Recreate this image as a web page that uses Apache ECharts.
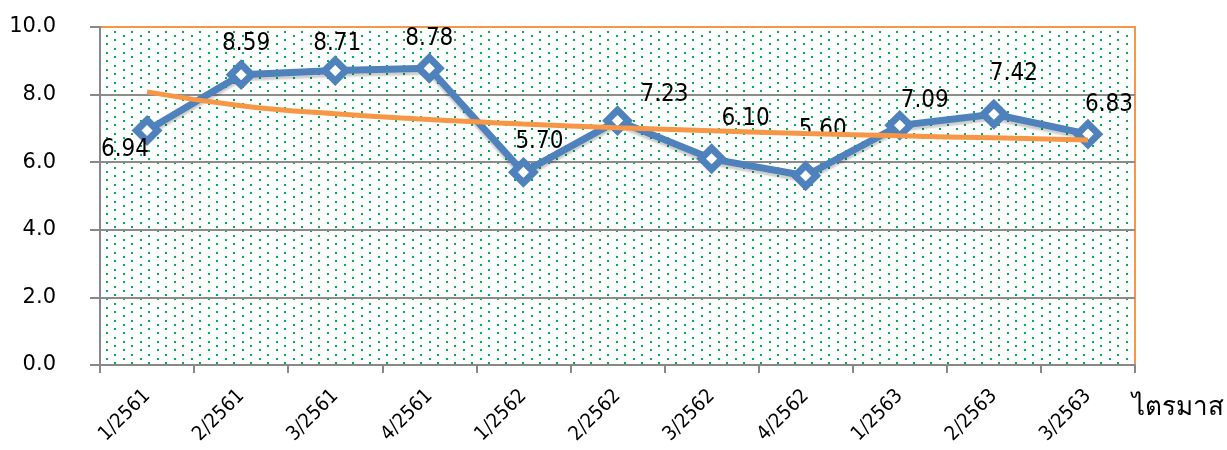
<!DOCTYPE html>
<html>
<head>
<meta charset="utf-8">
<script src="https://cdn.jsdelivr.net/npm/echarts@6/dist/echarts.min.js"></script>
<style>
  html, body { margin: 0; padding: 0; background: #fff; }
  #main { width: 1227px; height: 450px; }
</style>
</head>
<body>
<div id="main"></div>
<script>
var quarters = ['1/2561', '2/2561', '3/2561', '4/2561', '1/2562', '2/2562', '3/2562', '4/2562', '1/2563', '2/2563', '3/2563'];
var values = [6.94, 8.59, 8.71, 8.78, 5.70, 7.23, 6.10, 5.60, 7.09, 7.42, 6.83];
var trendValues = [8.08, 7.67, 7.43, 7.26, 7.13, 7.02, 6.93, 6.85, 6.78, 6.72, 6.66];
var yTicks = [0, 2, 4, 6, 8, 10];

// label offsets (px) for each point, as placed in the original
var labelOffsets = [[-22, 19], [5, -31], [2, -27], [0, -29], [16, -31], [47, -26], [34, -40], [17, -46], [25, -25], [20, -40], [21, -29]];

// dotted background tile
var tile = document.createElement('canvas');
tile.width = 17;
tile.height = 17;
var ctx = tile.getContext('2d');
ctx.fillStyle = '#ffffff';
ctx.fillRect(0, 0, 17, 17);
ctx.fillStyle = '#00B050';
[[0, 0], [8, 4], [0, 8], [8, 13]].forEach(function (p) {
    ctx.fillRect(p[0] + 4, p[1] + 1, 2, 2);
});

var myChart = echarts.init(document.getElementById('main'));

var pointData = values.map(function (v, i) {
    return {
        value: v,
        label: { offset: labelOffsets[i] }
    };
});

var option = {
    animation: false,
    grid: {
        left: 100,
        right: 90,
        top: 27,
        bottom: 85,
        show: true,
        backgroundColor: { image: tile, repeat: 'repeat' },
        borderColor: '#F79646',
        borderWidth: 2
    },
    xAxis: {
        type: 'category',
        data: quarters,
        boundaryGap: true,
        name: 'ไตรมาส',
        nameLocation: 'end',
        nameGap: -3,
        nameTextStyle: {
            color: '#000',
            fontSize: 26,
            fontFamily: 'Tahoma, "DejaVu Sans", sans-serif',
            verticalAlign: 'top',
            align: 'left',
            padding: [30, 0, 0, 0]
        },
        axisLine: { lineStyle: { color: '#888888', width: 2 } },
        axisTick: { show: true, length: 8, lineStyle: { color: '#888888', width: 2 } },
        axisLabel: {
            rotate: 45,
            margin: 28,
            color: '#000',
            fontSize: 20,
            fontFamily: '"DejaVu Sans Condensed", "DejaVu Sans", sans-serif'
        }
    },
    yAxis: {
        type: 'value',
        min: yTicks[0],
        max: yTicks[yTicks.length - 1],
        interval: 2,
        axisLine: { show: true, lineStyle: { color: '#888888', width: 2 } },
        axisTick: { show: true, length: 10, lineStyle: { color: '#888888', width: 2 } },
        axisLabel: {
            margin: 44,
            color: '#000',
            fontSize: 21,
            fontFamily: '"DejaVu Sans", sans-serif',
            formatter: function (v) { return v.toFixed(1); }
        },
        splitLine: {
            show: true,
            showMinLine: false,
            showMaxLine: false,
            lineStyle: { color: '#8C8C8C', width: 2 }
        }
    },
    series: [
        {
            name: 'value',
            type: 'line',
            data: pointData,
            symbol: 'diamond',
            symbolSize: 21,
            lineStyle: {
                color: '#4F81BD',
                width: 7,
                shadowColor: 'rgba(0,0,0,0.2)',
                shadowBlur: 2,
                shadowOffsetY: 3
            },
            itemStyle: {
                color: '#ffffff',
                borderColor: '#4F81BD',
                borderWidth: 7
            },
            label: {
                show: true,
                position: 'inside',
                align: 'center',
                verticalAlign: 'middle',
                color: '#000',
                fontSize: 24,
                fontFamily: '"DejaVu Sans Condensed", "DejaVu Sans", sans-serif',
                formatter: function (p) { return p.value.toFixed(2); }
            },
            z: 3
        },
        {
            name: 'trend',
            type: 'line',
            data: trendValues,
            smooth: true,
            showSymbol: false,
            symbol: 'none',
            lineStyle: { color: '#F79646', width: 5 },
            z: 4
        }
    ]
};

myChart.setOption(option);
</script>
</body>
</html>
